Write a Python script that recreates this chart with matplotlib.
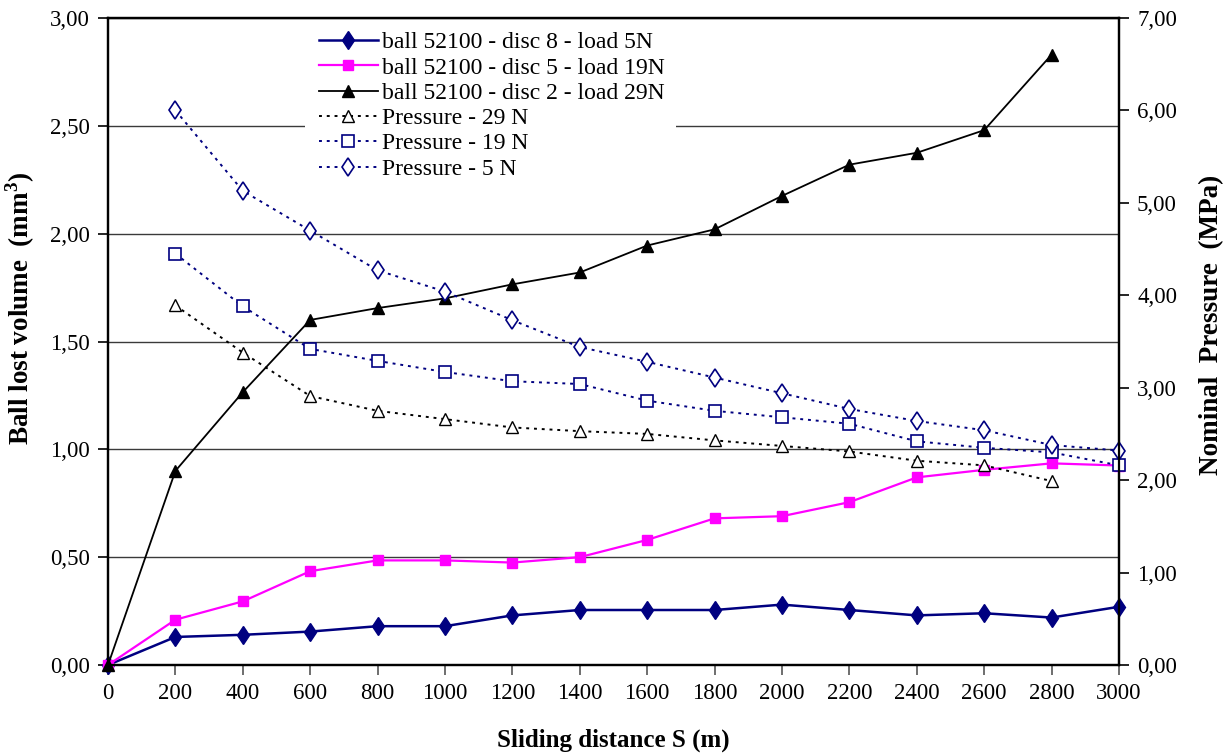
import matplotlib
matplotlib.use("Agg")
import matplotlib.pyplot as plt
from matplotlib.ticker import FuncFormatter, MultipleLocator
from matplotlib.patches import Rectangle

plt.rcParams['font.family'] = ['Liberation Serif', 'DejaVu Serif']
plt.rcParams['mathtext.fontset'] = 'custom'
plt.rcParams['mathtext.rm'] = 'Liberation Serif'
plt.rcParams['mathtext.bf'] = 'Liberation Serif:bold'

# ---- data ----
distance = [0, 200, 400, 600, 800, 1000, 1200, 1400, 1600, 1800, 2000, 2200, 2400, 2600, 2800, 3000]
ball_5N = [0.0, 0.13, 0.14, 0.155, 0.18, 0.18, 0.23, 0.255, 0.255, 0.255, 0.28, 0.255, 0.23, 0.24, 0.22, 0.27]
ball_19N = [0.0, 0.21, 0.295, 0.435, 0.485, 0.485, 0.475, 0.50, 0.58, 0.68, 0.69, 0.755, 0.87, 0.905, 0.935, 0.925]
dist_29 = [0, 200, 400, 600, 800, 1000, 1200, 1400, 1600, 1800, 2000, 2200, 2400, 2600, 2800]
ball_29N = [0.0, 0.90, 1.265, 1.60, 1.655, 1.70, 1.765, 1.82, 1.945, 2.02, 2.175, 2.32, 2.375, 2.48, 2.83]

p_dist = [200, 400, 600, 800, 1000, 1200, 1400, 1600, 1800, 2000, 2200, 2400, 2600, 2800, 3000]
p_dist29 = [200, 400, 600, 800, 1000, 1200, 1400, 1600, 1800, 2000, 2200, 2400, 2600, 2800]
press_29N = [3.89, 3.38, 2.91, 2.75, 2.66, 2.57, 2.53, 2.50, 2.43, 2.37, 2.31, 2.21, 2.16, 1.99]
press_19N = [4.45, 3.88, 3.42, 3.29, 3.17, 3.07, 3.04, 2.86, 2.75, 2.68, 2.61, 2.42, 2.35, 2.30, 2.16]
press_5N = [6.00, 5.13, 4.70, 4.27, 4.04, 3.73, 3.44, 3.28, 3.11, 2.94, 2.77, 2.64, 2.54, 2.38, 2.32]

labels = ['ball 52100 - disc 8 - load 5N', 'ball 52100 - disc 5 - load 19N',
          'ball 52100 - disc 2 - load 29N', 'Pressure - 29 N', 'Pressure - 19 N', 'Pressure - 5 N']

navy = '#000080'
magenta = '#FF00FF'

fig = plt.figure(figsize=(12.31, 7.56), dpi=100)
ax = fig.add_axes([108/1231, 1-665/756, (1119-108)/1231, (665-18)/756])
ax2 = ax.twinx()

fmt = FuncFormatter(lambda v, p: f"{v:.2f}".replace('.', ','))

# gridlines
ax.set_ylim(0, 3.0)
ax.set_xlim(0, 3000)
ax.yaxis.set_major_locator(MultipleLocator(0.5))
ax.xaxis.set_major_locator(MultipleLocator(200))
ax.grid(axis='y', color='#3a3a3a', lw=1.0)
ax.set_axisbelow(True)

h1, = ax.plot(distance, ball_5N, color=navy, lw=1.8, marker='d', ms=9.5, mfc=navy, mec=navy, clip_on=False, zorder=3)
h2, = ax.plot(distance, ball_19N, color=magenta, lw=1.6, marker='s', ms=7, mfc=magenta, mec=magenta, clip_on=False, zorder=3)
h3, = ax.plot(dist_29, ball_29N, color='black', lw=1.3, marker='^', ms=8.5, mfc='black', mec='black', clip_on=False, zorder=3)

ax2.set_ylim(0, 7.0)
ax2.yaxis.set_major_locator(MultipleLocator(1.0))
h4, = ax2.plot(p_dist29, press_29N, color='black', lw=1.4, ls=(0, (1.5, 2.5)), marker='^', ms=8, mfc='white', mec='black', mew=1.0, clip_on=False)
h5, = ax2.plot(p_dist, press_19N, color=navy, lw=1.4, ls=(0, (1.5, 2.5)), marker='s', ms=8.5, mfc='white', mec=navy, mew=1.2, clip_on=False)
h6, = ax2.plot(p_dist, press_5N, color=navy, lw=1.4, ls=(0, (1.5, 2.5)), marker='d', ms=9.5, mfc='white', mec=navy, mew=1.2, clip_on=False)

for a in (ax, ax2):
    for s in a.spines.values():
        s.set_linewidth(1.6)
        s.set_color('black')

ax.yaxis.set_major_formatter(fmt)
ax2.yaxis.set_major_formatter(fmt)
ax.tick_params(axis='both', direction='out', length=7, width=1.2, colors='black', labelsize=16.5, pad=6)
ax.tick_params(axis='x', colors='#555555', labelcolor='black', pad=6)
ax2.tick_params(axis='y', direction='out', length=7, width=1.2, labelsize=16.5, pad=6)

ax.set_xlabel('Sliding distance S (m)', fontsize=18, fontweight='bold', labelpad=18)
ax.set_ylabel('Ball lost volume  (mm$^\\mathbf{3}$)', fontsize=19.5, fontweight='bold')
ax2.set_ylabel('Nominal  Pressure  (MPa)', fontsize=19.5, fontweight='bold')
ax.yaxis.set_label_coords(-0.07, 0.552)
ax2.yaxis.set_label_coords(1.079, 0.525)

# legend background box
rect = Rectangle((305/1231, 1-187/756), (676-305)/1231, (187-27)/756, transform=fig.transFigure,
                 facecolor='white', edgecolor='none', zorder=5)
ax2.add_patch(rect)
rect.set_clip_on(False)

leg = ax2.legend([h1, h2, h3, h4, h5, h6], labels, loc='upper left',
                 bbox_to_anchor=(314/1231, 1-27/756), bbox_transform=fig.transFigure,
                 frameon=False, fontsize=17, handlelength=2.5, handletextpad=0.2,
                 labelspacing=0.16, borderpad=0.2, borderaxespad=0)
leg.set_zorder(10)

fig.savefig('out.png', dpi=100)
